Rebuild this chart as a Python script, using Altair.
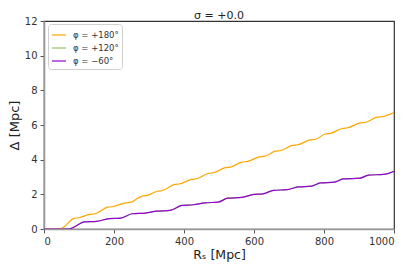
import altair as alt
import pandas as pd

# Values
orange_R = [0, 40, 50, 86, 100, 130, 146, 182, 198, 233, 249, 280, 296, 323, 339, 373, 389, 421, 437,
            470, 486, 516, 532, 566, 582, 615, 631, 661, 677, 709, 725, 761, 777, 803, 819, 852, 868,
            903, 919, 952, 968, 1000]
orange_D = [0, 0, 0.03, 0.61, 0.65, 0.84, 0.88, 1.26, 1.30, 1.51, 1.55, 1.90, 1.94, 2.18, 2.22, 2.57, 2.61,
            2.86, 2.90, 3.21, 3.25, 3.53, 3.57, 3.86, 3.90, 4.16, 4.20, 4.49, 4.53, 4.82, 4.86, 5.14, 5.18,
            5.48, 5.52, 5.80, 5.84, 6.12, 6.16, 6.45, 6.49, 6.72]

purple_R = [0, 70, 116, 150, 186, 219, 252, 290, 322, 360, 394, 427, 460, 498, 525, 565, 600, 625,
            656, 695, 726, 764, 790, 830, 855, 903, 927, 970, 1000]
purple_D = [0, 0, 0.41, 0.44, 0.60, 0.63, 0.88, 0.92, 1.03, 1.07, 1.36, 1.40, 1.51, 1.55, 1.78, 1.82,
            2.00, 2.03, 2.23, 2.27, 2.43, 2.47, 2.66, 2.70, 2.89, 2.93, 3.11, 3.15, 3.33]

# the green curve lies under the purple one
green_R = [0, 70, 116, 150, 186, 219, 252, 290, 322, 360, 394, 427, 460, 498, 525, 565, 600, 625,
           656, 695, 726, 764, 790, 830, 855, 903, 927, 970, 1000]
green_D = [0, 0, 0.41, 0.44, 0.60, 0.63, 0.88, 0.92, 1.03, 1.07, 1.36, 1.40, 1.51, 1.55, 1.78, 1.82,
           2.00, 2.03, 2.23, 2.27, 2.43, 2.47, 2.66, 2.70, 2.89, 2.93, 3.11, 3.15, 3.33]

labels = ["φ = +180°", "φ = +120°", "φ = −60°"]
colors = ["#ffa500", "#8fc35d", "#9400d3"]
x_ticks = [0, 200, 400, 600, 800, 1000]
y_ticks = [0, 2, 4, 6, 8, 10, 12]
title_text = "σ = +0.0"

series = [(orange_R, orange_D), (green_R, green_D), (purple_R, purple_D)]
frames = []
for lab, (rr, dd) in zip(labels, series):
    frames.append(pd.DataFrame({"R": rr, "D": dd, "phi": lab}))

color_scale = alt.Scale(domain=labels, range=colors)
FONT = "DejaVu Sans"

layers = []
for i, df in enumerate(frames):
    layers.append(
        alt.Chart(df).mark_line(strokeWidth=1.2, interpolate="monotone", clip=True).encode(
            x=alt.X("R:Q", scale=alt.Scale(domain=[0, 1000], nice=False),
                    axis=alt.Axis(values=x_ticks, title="Rₛ [Mpc]", grid=False, format="d")),
            y=alt.Y("D:Q", scale=alt.Scale(domain=[0, 12], nice=False),
                    axis=alt.Axis(values=y_ticks, title="Δ [Mpc]", grid=False, format="d")),
            color=alt.Color("phi:N", scale=color_scale, sort=labels,
                            legend=alt.Legend(title=None, orient="none", legendX=4, legendY=3,
                                              symbolType="stroke", symbolSize=200,
                                              symbolStrokeWidth=1.2, labelFontSize=8.5,
                                              labelFont=FONT, labelColor="#333",
                                              padding=3, strokeColor="#d0d0d0", cornerRadius=3,
                                              fillColor="white", rowPadding=0, labelOffset=6)),
        )
    )

title_layer = alt.Chart(pd.DataFrame({"t": [title_text]})).mark_text(
    font=FONT, fontSize=11, color="#222", baseline="alphabetic", align="center"
).encode(x=alt.value(175), y=alt.value(-2), text="t:N")

chart = alt.layer(*layers, title_layer).properties(
    width=350, height=208,
    autosize=alt.AutoSizeParams(type="none"),
    padding={"left": 36, "top": 13, "right": 5, "bottom": 34},
).configure_view(stroke="#333", strokeWidth=1.2).configure_axis(
    labelFont=FONT, titleFont=FONT, labelFontSize=10, titleFontSize=13,
    labelColor="#333", titleColor="#222", titleFontWeight="normal",
    domainColor="#999", domainWidth=1.6, tickColor="#555", tickSize=4, labelPadding=3,
).configure_axisY(titlePadding=3).configure_axisX(titlePadding=2, labelPadding=3, titleFontSize=12.5)

chart.save("out.html", embed_options={"renderer": "svg", "actions": False})
